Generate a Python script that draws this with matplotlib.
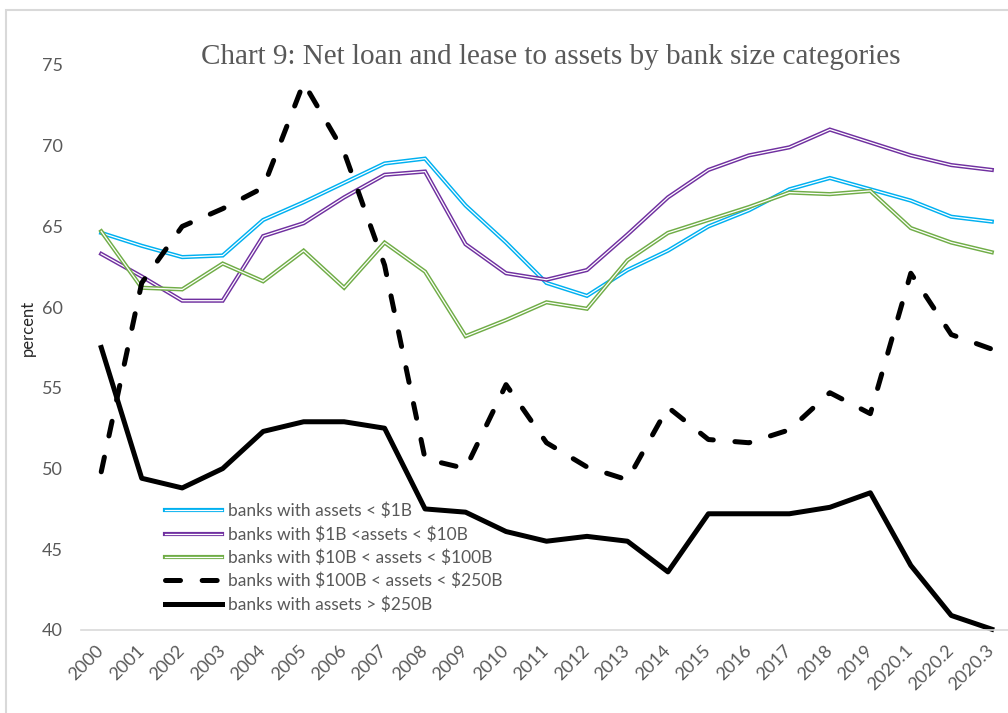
import matplotlib
matplotlib.use("Agg")
import matplotlib.pyplot as plt
import matplotlib.patheffects as pe
from matplotlib.patches import Rectangle

years = ["2000", "2001", "2002", "2003", "2004", "2005", "2006", "2007", "2008", "2009",
         "2010", "2011", "2012", "2013", "2014", "2015", "2016", "2017", "2018", "2019",
         "2020.1", "2020.2", "2020.3"]

under_1b = [64.6, 63.8, 63.1, 63.2, 65.4, 66.5, 67.7, 68.9, 69.2, 66.3,
            64.0, 61.5, 60.7, 62.3, 63.5, 65.0, 66.0, 67.3, 68.0, 67.3,
            66.6, 65.6, 65.3]
from_1b_to_10b = [63.3, 61.9, 60.4, 60.4, 64.4, 65.2, 66.8, 68.2, 68.4, 63.9,
                  62.1, 61.7, 62.3, 64.5, 66.8, 68.5, 69.4, 69.9, 71.0, 70.2,
                  69.4, 68.8, 68.5]
from_10b_to_100b = [64.7, 61.2, 61.1, 62.7, 61.6, 63.5, 61.2, 64.0, 62.2, 58.2,
                    59.2, 60.3, 59.9, 62.9, 64.6, 65.4, 66.2, 67.1, 67.0, 67.2,
                    64.9, 64.0, 63.4]
from_100b_to_250b = [49.8, 61.5, 65.0, 66.1, 67.4, 73.9, 69.6, 62.6, 50.6, 50.0,
                     55.2, 51.6, 50.1, 49.3, 53.8, 51.8, 51.6, 52.4, 54.7, 53.4,
                     62.1, 58.3, 57.4]
over_250b = [57.5, 49.4, 48.8, 50.0, 52.3, 52.9, 52.9, 52.5, 47.5, 47.3,
             46.1, 45.5, 45.8, 45.5, 43.6, 47.2, 47.2, 47.2, 47.6, 48.5,
             44.0, 40.9, 40.05]

labels = [r"banks with assets < \$1B", r"banks with \$1B <assets < \$10B",
          r"banks with \$10B < assets < \$100B", r"banks with \$100B < assets < \$250B",
          r"banks with assets > \$250B"]

plt.rcParams["font.family"] = ["Lato", "DejaVu Sans"]
plt.rcParams["lines.scale_dashes"] = False

fig = plt.figure(figsize=(10.08, 7.13), dpi=100)
ax = fig.add_axes([81 / 1008, 83 / 713, (1012 - 81) / 1008, (630 - 65) / 713])

x = list(range(len(years)))
gray = "#595959"

for vals, col, lab in [(under_1b, "#00B0F0", labels[0]),
                       (from_1b_to_10b, "#7030A0", labels[1]),
                       (from_10b_to_100b, "#70AD47", labels[2])]:
    ax.plot(x, vals, color="white", lw=0.9, label=lab, clip_on=False,
            solid_joinstyle="miter",
            path_effects=[pe.Stroke(linewidth=3.0, foreground=col), pe.Normal()])

ax.plot(x, from_100b_to_250b, color="black", lw=3.6, dashes=(10.8, 15.6),
        dash_capstyle="round", label=labels[3], clip_on=False)
ax.plot(x, over_250b, color="black", lw=3.6, label=labels[4], clip_on=False)

ax.set_xlim(-0.5, 22.5)
ax.set_ylim(40, 75)
ax.set_yticks([40, 45, 50, 55, 60, 65, 70, 75])
ax.set_xticks(x)
ax.set_xticklabels(years, rotation=45, ha="right", va="center", rotation_mode="anchor")
ax.tick_params(axis="both", length=0, labelsize=13, labelcolor=gray)
ax.tick_params(axis="y", pad=13)
ax.tick_params(axis="x", pad=13)

for s in ["top", "right", "left"]:
    ax.spines[s].set_visible(False)
ax.spines["bottom"].set_color("#D9D9D9")
ax.spines["bottom"].set_linewidth(1.2)

leg = ax.legend(loc="upper left", bbox_to_anchor=(165 / 1008, 1 - 503 / 713),
                bbox_transform=fig.transFigure, frameon=False, fontsize=12.5,
                handlelength=3.3, handletextpad=0.3, labelspacing=0.39,
                borderpad=0, borderaxespad=0)
for t in leg.get_texts():
    t.set_color(gray)

fig.text(551 / 1008, 1 - 57 / 713, "Chart 9: Net loan and lease to assets by bank size categories",
         ha="center", va="center", fontsize=21, color=gray,
         family=["Liberation Serif", "DejaVu Serif"])
fig.text(28 / 1008, 1 - 328 / 713, "percent", rotation=90, ha="center", va="center",
         fontsize=12, color="#262626")

fig.patches.append(Rectangle((6 / 1008, -0.1), 1.2, 1.1 - 10 / 713, transform=fig.transFigure,
                             fill=False, edgecolor="#D9D9D9", lw=1.5))

fig.savefig("out.png", dpi=100)
